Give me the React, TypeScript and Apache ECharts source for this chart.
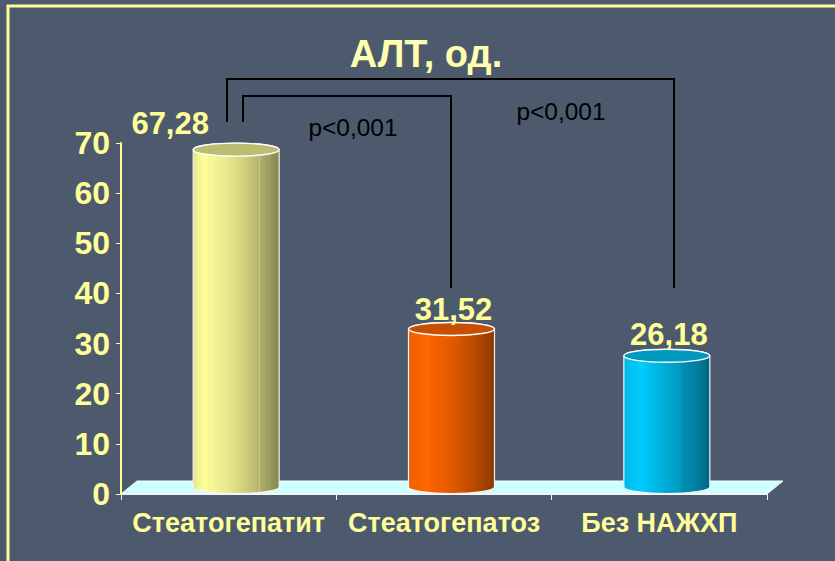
import React, { useEffect, useRef } from "react";
import * as echarts from "echarts";

const categories = ["Стеатогепатит", "Стеатогепатоз", "Без НАЖХП"];
const values = [67.28, 31.52, 26.18];
const valueLabels = ["67,28", "31,52", "26,18"];
const yMax = 70;
const yInterval = 10;
const titleText = "АЛТ, од.";
const pText = "p<0,001";

const BG = "#4d5a6e";
const YELLOW = "#ffff99";
const TEXT_FONT = '"Liberation Sans", Arial, sans-serif';

const bodyStops = [
  [
    [0, "#e6e68a"], [0.04, "#eeee90"], [0.04, "#d8d8a0"], [0.05, "#f2f295"], [0.14, "#ffff99"],
    [0.17, "#fdfd98"], [0.17, "#d0d0a0"], [0.18, "#fbfb96"], [0.3, "#f0f092"], [0.5, "#dcdc86"],
    [0.7, "#c0c076"], [0.77, "#b4b46e"], [0.77, "#c8c88c"], [0.78, "#b0b06c"], [0.85, "#a3a364"],
    [0.88, "#9c9c60"], [0.88, "#b8b88a"], [0.89, "#989860"], [1, "#86864f"],
  ],
  [
    [0, "#f06000"], [0.22, "#ff6600"], [0.25, "#fb6400"], [0.25, "#f06a1a"], [0.26, "#f86200"],
    [0.5, "#e25a00"], [0.75, "#bb4b00"], [1, "#8f3900"],
  ],
  [
    [0, "#00b8e6"], [0.2, "#00ccff"], [0.5, "#00a9d4"], [0.67, "#0097bd"], [0.67, "#0090b4"],
    [0.85, "#007ea0"], [1, "#006480"],
  ],
];
const topColors = ["#bcbc72", "#c75000", "#0099bf"];
const labelShift = [[-66, -26], [2, -19], [2, -21]];

function renderFloor(params: any, api: any) {
  const c = params.coordSys;
  const depthX = 16;
  const depthY = 13;
  const left = c.x;
  const right = c.x + c.width;
  const bottom = c.y + c.height;
  return {
    type: "group",
    children: [
      {
        type: "polygon",
        shape: {
          points: [
            [left, bottom],
            [left + depthX, bottom - depthY],
            [right + depthX, bottom - depthY],
            [right, bottom],
          ],
        },
        style: { fill: "#ccffff", stroke: "#f4ffff", lineWidth: 1 },
      },
    ],
  };
}

function renderCylinder(params: any, api: any) {
  const i = params.dataIndex;
  const rx = 43;
  const ry = 6.5;
  const base = api.coord([api.value(0), 0]);
  const top = api.coord([api.value(0), api.value(1)]);
  const cx = base[0] + 7.5;
  const yb = base[1] - 7;
  const yt = top[1] - 7;
  const l = cx - rx;
  const r = cx + rx;
  const d = `M${l} ${yt}L${l} ${yb}A${rx} ${ry} 0 0 0 ${r} ${yb}L${r} ${yt}A${rx} ${ry} 0 0 0 ${l} ${yt}Z`;
  const stops = bodyStops[i].map(([offset, color]) => ({ offset, color }));
  return {
    type: "group",
    children: [
      {
        type: "path",
        shape: { pathData: d, x: l, y: yt - ry, width: 2 * rx, height: yb - yt + 2 * ry, layout: "cover" },
        style: {
          fill: new echarts.graphic.LinearGradient(0, 0, 1, 0, stops as any),
          stroke: "#f2f2f2",
          lineWidth: 1.2,
        },
      },
      {
        type: "ellipse",
        shape: { cx, cy: yt, rx, ry },
        style: { fill: topColors[i], stroke: "#ffffff", lineWidth: 1.4 },
      },
      {
        type: "text",
        x: cx + labelShift[i][0],
        y: yt + labelShift[i][1],
        style: {
          text: valueLabels[i],
          fill: YELLOW,
          font: `bold 31px ${TEXT_FONT}`,
          textAlign: "center",
          textVerticalAlign: "middle",
        },
      },
    ],
  };
}

export default function App() {
  const ref = useRef<HTMLDivElement>(null);

  useEffect(() => {
    document.body.style.margin = "0";
    document.body.style.background = BG;
    const chart = echarts.init(ref.current!, undefined, { renderer: "svg" });
    const bracket = (points: number[][]) => ({
      type: "polyline",
      shape: { points },
      style: { stroke: "#000000", lineWidth: 2, fill: "none" },
      z: 10,
    });
    const frame = (points: number[][]) => ({
      type: "polyline",
      shape: { points },
      style: { stroke: YELLOW, lineWidth: 3, fill: "none" },
      z: 0,
    });
    const labelText = (text: string, x: number, y: number, font: string) => ({
      type: "text",
      x,
      y,
      style: { text, fill: "#000000", font, textAlign: "center", textVerticalAlign: "middle" },
      z: 10,
    });
    chart.setOption({
      animation: false,
      backgroundColor: BG,
      grid: { left: 121, right: 68, top: 143, bottom: 67 },
      xAxis: {
        type: "category",
        data: categories,
        boundaryGap: true,
        axisLine: { lineStyle: { color: "#f4f4f4", width: 2 } },
        axisTick: { show: true, alignWithLabel: false, length: 6, lineStyle: { color: "#f4f4f4", width: 1 } },
        axisLabel: {
          color: YELLOW,
          fontFamily: TEXT_FONT,
          fontWeight: "bold",
          fontSize: 27,
          margin: 15,
          interval: 0,
        },
        z: 5,
      },
      yAxis: {
        type: "value",
        min: 0,
        max: yMax,
        interval: yInterval,
        splitLine: { show: false },
        axisLine: { show: true, lineStyle: { color: YELLOW, width: 2 } },
        axisTick: { show: true, length: 5, lineStyle: { color: YELLOW, width: 1 } },
        axisLabel: {
          color: YELLOW,
          fontFamily: TEXT_FONT,
          fontWeight: "bold",
          fontSize: 32,
          margin: 11,
        },
        z: 5,
      },
      graphic: [
        frame([[8, 561], [8, 6], [835, 6]]),
        {
          type: "text",
          x: 426,
          y: 54,
          style: {
            text: titleText,
            fill: "#ffffb0",
            font: `bold 38px ${TEXT_FONT}`,
            textAlign: "center",
            textVerticalAlign: "middle",
          },
          z: 10,
        },
        bracket([[227, 122], [227, 79], [674, 79], [674, 288]]),
        bracket([[243, 122], [243, 96], [451, 96], [451, 288]]),
        labelText(pText, 353, 127, `24.5px ${TEXT_FONT}`),
        labelText(pText, 561, 111, `24.5px ${TEXT_FONT}`),
      ],
      series: [
        {
          type: "custom",
          renderItem: renderFloor,
          data: [[0, 0]],
          clip: false,
          z: 1,
          silent: true,
        },
        {
          type: "custom",
          renderItem: renderCylinder,
          data: values.map((v, i) => [i, v]),
          encode: { x: 0, y: 1 },
          clip: false,
          z: 3,
        },
      ],
    });
    return () => chart.dispose();
  }, []);

  return <div ref={ref} style={{ position: "absolute", left: 0, top: 0, width: 835, height: 561 }} />;
}
